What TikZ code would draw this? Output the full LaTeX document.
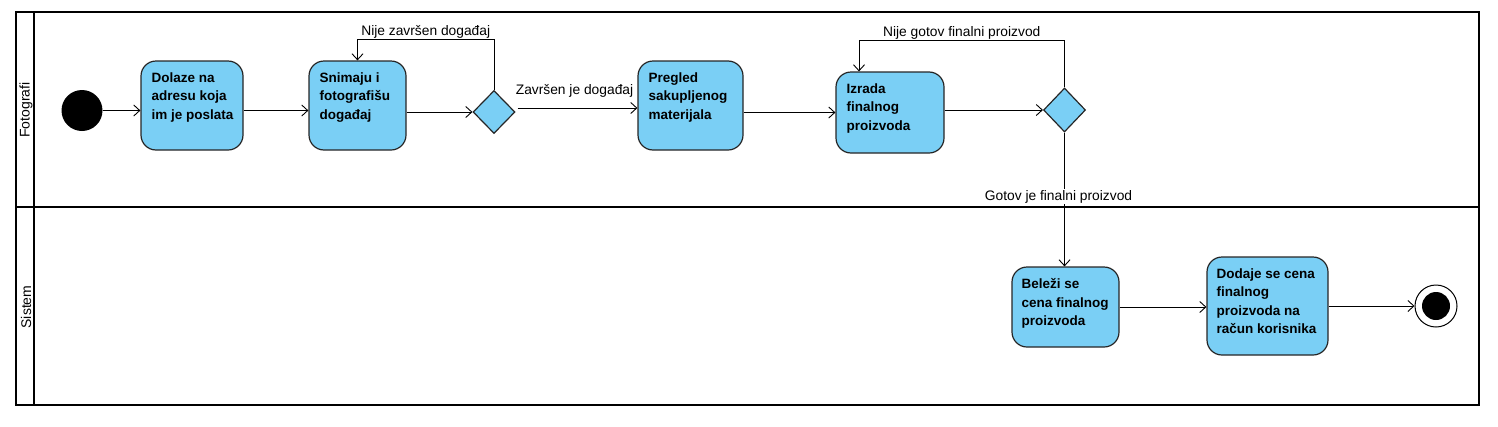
\documentclass[tikz,border=0pt]{standalone}
\usepackage{fontspec}
\setmainfont{Liberation Sans}
\usetikzlibrary{shapes.geometric,arrows.meta,positioning,calc}
\definecolor{actblue}{RGB}{122,207,245}

\begin{document}
\begin{tikzpicture}[x=1pt,y=-1pt,
        act/.style={draw=black!85,line width=1.2pt,fill=actblue,rounded corners=15pt,inner sep=0pt},
        acttext/.style={anchor=north west,align=left,inner sep=0pt,font=\bfseries\fontsize{13.5}{18.5}\selectfont},
        choice/.style={diamond,draw=black!85,line width=1.2pt,fill=actblue,inner sep=0pt,minimum width=42pt,minimum height=43pt},
        flow/.style={-{Straight Barb[length=6pt,width=11pt]},line width=0.9pt},
        guard/.style={font=\fontsize{13.8}{16}\selectfont,inner sep=1pt},
        lanename/.style={rotate=90,font=\fontsize{14}{16}\selectfont},
        lane/.style={line width=2pt}]
        \useasboundingbox (0,0) rectangle (1498,426);
        \draw[lane] (16,12) rectangle (1479,405);
        \draw[lane] (34,12) -- (34,405);
        \draw[lane] (16,207) -- (1479,207);
        \node[lanename] (fotografi) at (26,110) {Fotografi};
        \node[lanename] (sistem) at (26,307) {Sistem};

        \node[circle,fill=black,minimum size=41pt,inner sep=0pt] (start) at (82,110.5) {};
        \node[act,minimum width=102pt,minimum height=89pt] (a) at (192,105.5) {};
        \node[act,minimum width=97pt,minimum height=89pt] (b) at (357.5,105.5) {};
        \node[choice] (d1) at (494,112) {};
        \node[act,minimum width=105pt,minimum height=89pt] (c) at (690.5,105.5) {};
        \node[act,minimum width=108pt,minimum height=81pt] (d) at (890,112.5) {};
        \node[choice,minimum height=44pt] (d2) at (1064.5,110) {};
        \node[act,minimum width=107pt,minimum height=80pt] (e) at (1065.5,307) {};
        \node[act,minimum width=121pt,minimum height=98pt] (f) at (1267.5,306) {};
        \node[circle,draw=black,line width=1pt,fill=white,minimum size=42pt,inner sep=0pt] (stop) at (1436,306) {};
        \node[circle,fill=black,minimum size=28pt,inner sep=0pt] (stopdot) at (stop) {};

        \node[acttext] (a-text) at ([xshift=11pt,yshift=-12pt]a.north west) {Dolaze na\\adresu koja\\im je poslata};
        \node[acttext] (b-text) at ([xshift=11pt,yshift=-12pt]b.north west) {Snimaju i\\fotografišu\\događaj};
        \node[acttext] (c-text) at ([xshift=11pt,yshift=-12pt]c.north west) {Pregled\\sakupljenog\\materijala};
        \node[acttext] (d-text) at ([xshift=11pt,yshift=-12pt]d.north west) {Izrada\\finalnog\\proizvoda};
        \node[acttext] (e-text) at ([xshift=10pt,yshift=-12pt]e.north west) {Beleži se\\cena finalnog\\proizvoda};
        \node[acttext] (f-text) at ([xshift=10pt,yshift=-12pt]f.north west) {Dodaje se cena\\finalnog\\proizvoda na\\račun korisnika};

        \draw[flow] (start.east) -- (start.east -| a.west);
        \draw[flow] (a.east |- start) -- (b.west |- start);
        \draw[flow] (b.east |- d1) -- (d1.west);
        \draw[flow] (d1.north) -- ++(0,-50) -| node[guard,pos=0.25,above] (g1) {Nije završen događaj} (b.north);
        \draw[flow] ($(d1.east)+(2,-4)$) coordinate (zv) -- node[guard,above=9pt,xshift=-3pt] (g2) {Završen je događaj} (zv -| c.west);
        \draw[flow] (c.east |- d) -- (d.west);
        \draw[flow] (d2.west -| d.east) -- (d2.west);
        \draw[flow] (d2.north) -- ++(0,-47) -| node[guard,pos=0.25,above] (g3) {Nije gotov finalni proizvod} ([xshift=-31pt]d.north);
        \draw[flow] (d2.south) -- node[guard,fill=white,pos=0.478,xshift=-6pt] (g4) {Gotov je finalni proizvod} (e.north -| d2.south);
        \draw[flow] (e.east) -- (e.east -| f.west);
        \draw[flow] (f.east) -- (stop.west);
\end{tikzpicture}
\end{document}
